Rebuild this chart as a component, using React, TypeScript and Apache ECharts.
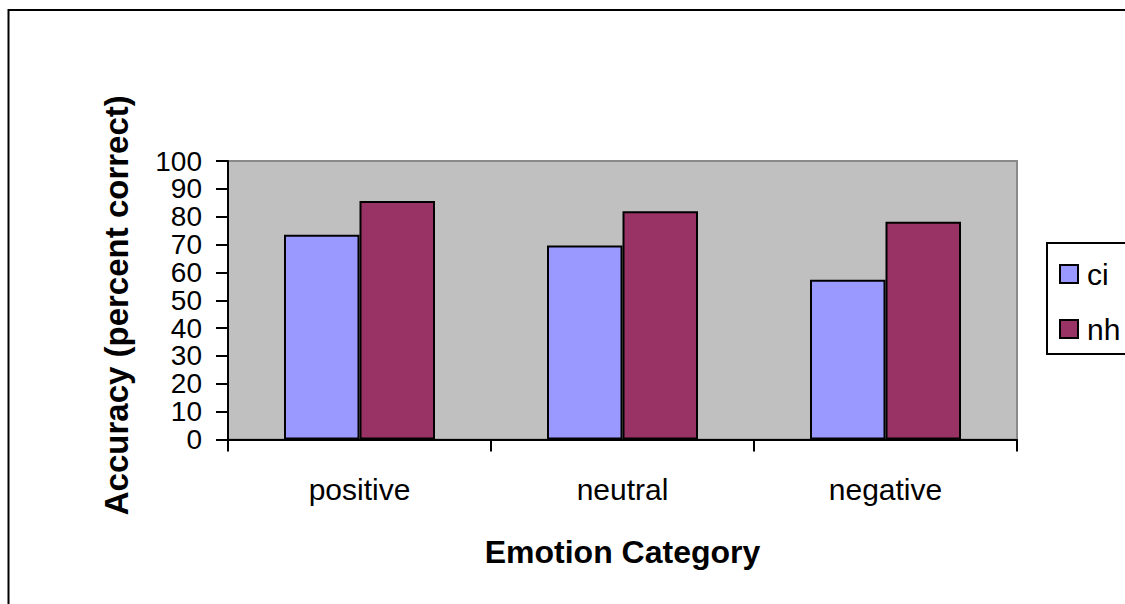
import React, { useEffect, useRef } from "react";
import * as echarts from "echarts";

const categories = ["positive", "neutral", "negative"];
const ciValues = [73.5, 69.7, 57.4];
const nhValues = [85.6, 82.0, 78.2];
const seriesNames = ["ci", "nh"];
const yTicks = { min: 0, max: 100, interval: 10 };

const FONT = "'Liberation Sans', Arial, sans-serif";

export default function App() {
  const ref = useRef<HTMLDivElement>(null);
  useEffect(() => {
    if (!ref.current) return;
    const chart = echarts.init(ref.current, null, { renderer: "svg" });
    chart.setOption({
      animation: false,
      backgroundColor: "#ffffff",
      textStyle: { fontFamily: FONT, color: "#000" },
      graphic: [
        {
          type: "rect",
          shape: { x: 8.5, y: 10, width: 1300, height: 800 },
          style: { fill: "none", stroke: "#000", lineWidth: 2 },
          silent: true,
        },
      ],
      grid: {
        left: 228,
        right: 108,
        top: 161,
        bottom: 164.5,
        show: true,
        backgroundColor: "#c0c0c0",
        borderColor: "#8a8a8a",
        borderWidth: 2,
      },
      legend: {
        orient: "vertical",
        left: 1047,
        top: 243,
        padding: [16, 60, 10, 12],
        itemWidth: 18,
        itemHeight: 18,
        itemGap: 25,
        borderColor: "#000",
        borderWidth: 2,
        backgroundColor: "#fff",
        icon: "rect",
        itemStyle: { borderColor: "#000", borderWidth: 2 },
        textStyle: {
          fontFamily: FONT,
          fontSize: 30,
          lineHeight: 30,
          color: "#000",
          padding: [0, 0, 0, 4],
        },
        data: seriesNames,
      },
      xAxis: {
        type: "category",
        data: categories,
        name: "Emotion Category",
        nameLocation: "middle",
        nameGap: 96,
        nameTextStyle: {
          fontFamily: FONT,
          fontSize: 32,
          fontWeight: "bold",
          color: "#000",
        },
        axisLine: { show: true, lineStyle: { color: "#000", width: 2 } },
        axisTick: {
          show: true,
          alignWithLabel: false,
          length: 12,
          lineStyle: { color: "#000", width: 2 },
        },
        axisLabel: {
          fontFamily: FONT,
          fontSize: 30,
          color: "#000",
          margin: 35,
        },
        splitLine: { show: false },
      },
      yAxis: {
        type: "value",
        min: yTicks.min,
        max: yTicks.max,
        interval: yTicks.interval,
        name: "Accuracy (percent correct)",
        nameLocation: "middle",
        nameGap: 95,
        nameTextStyle: {
          fontFamily: FONT,
          fontSize: 33,
          fontWeight: "bold",
          color: "#000",
          padding: [0, 10, 0, 0],
        },
        axisLine: { show: true, lineStyle: { color: "#000", width: 2 } },
        axisTick: {
          show: true,
          length: 12,
          lineStyle: { color: "#000", width: 2 },
        },
        axisLabel: {
          fontFamily: FONT,
          fontSize: 28,
          color: "#000",
          margin: 26,
        },
        splitLine: { show: false },
      },
      series: [
        {
          name: seriesNames[0],
          type: "bar",
          data: ciValues,
          barWidth: 75.5,
          barGap: "0%",
          itemStyle: { color: "#9999ff", borderColor: "#000", borderWidth: 2 },
        },
        {
          name: seriesNames[1],
          type: "bar",
          data: nhValues,
          barWidth: 75.5,
          barGap: "0%",
          itemStyle: { color: "#993366", borderColor: "#000", borderWidth: 2 },
        },
      ],
    });
    return () => chart.dispose();
  }, []);
  return (
    <div
      ref={ref}
      style={{ position: "fixed", left: 0, top: 0, width: 1125, height: 604 }}
    />
  );
}
